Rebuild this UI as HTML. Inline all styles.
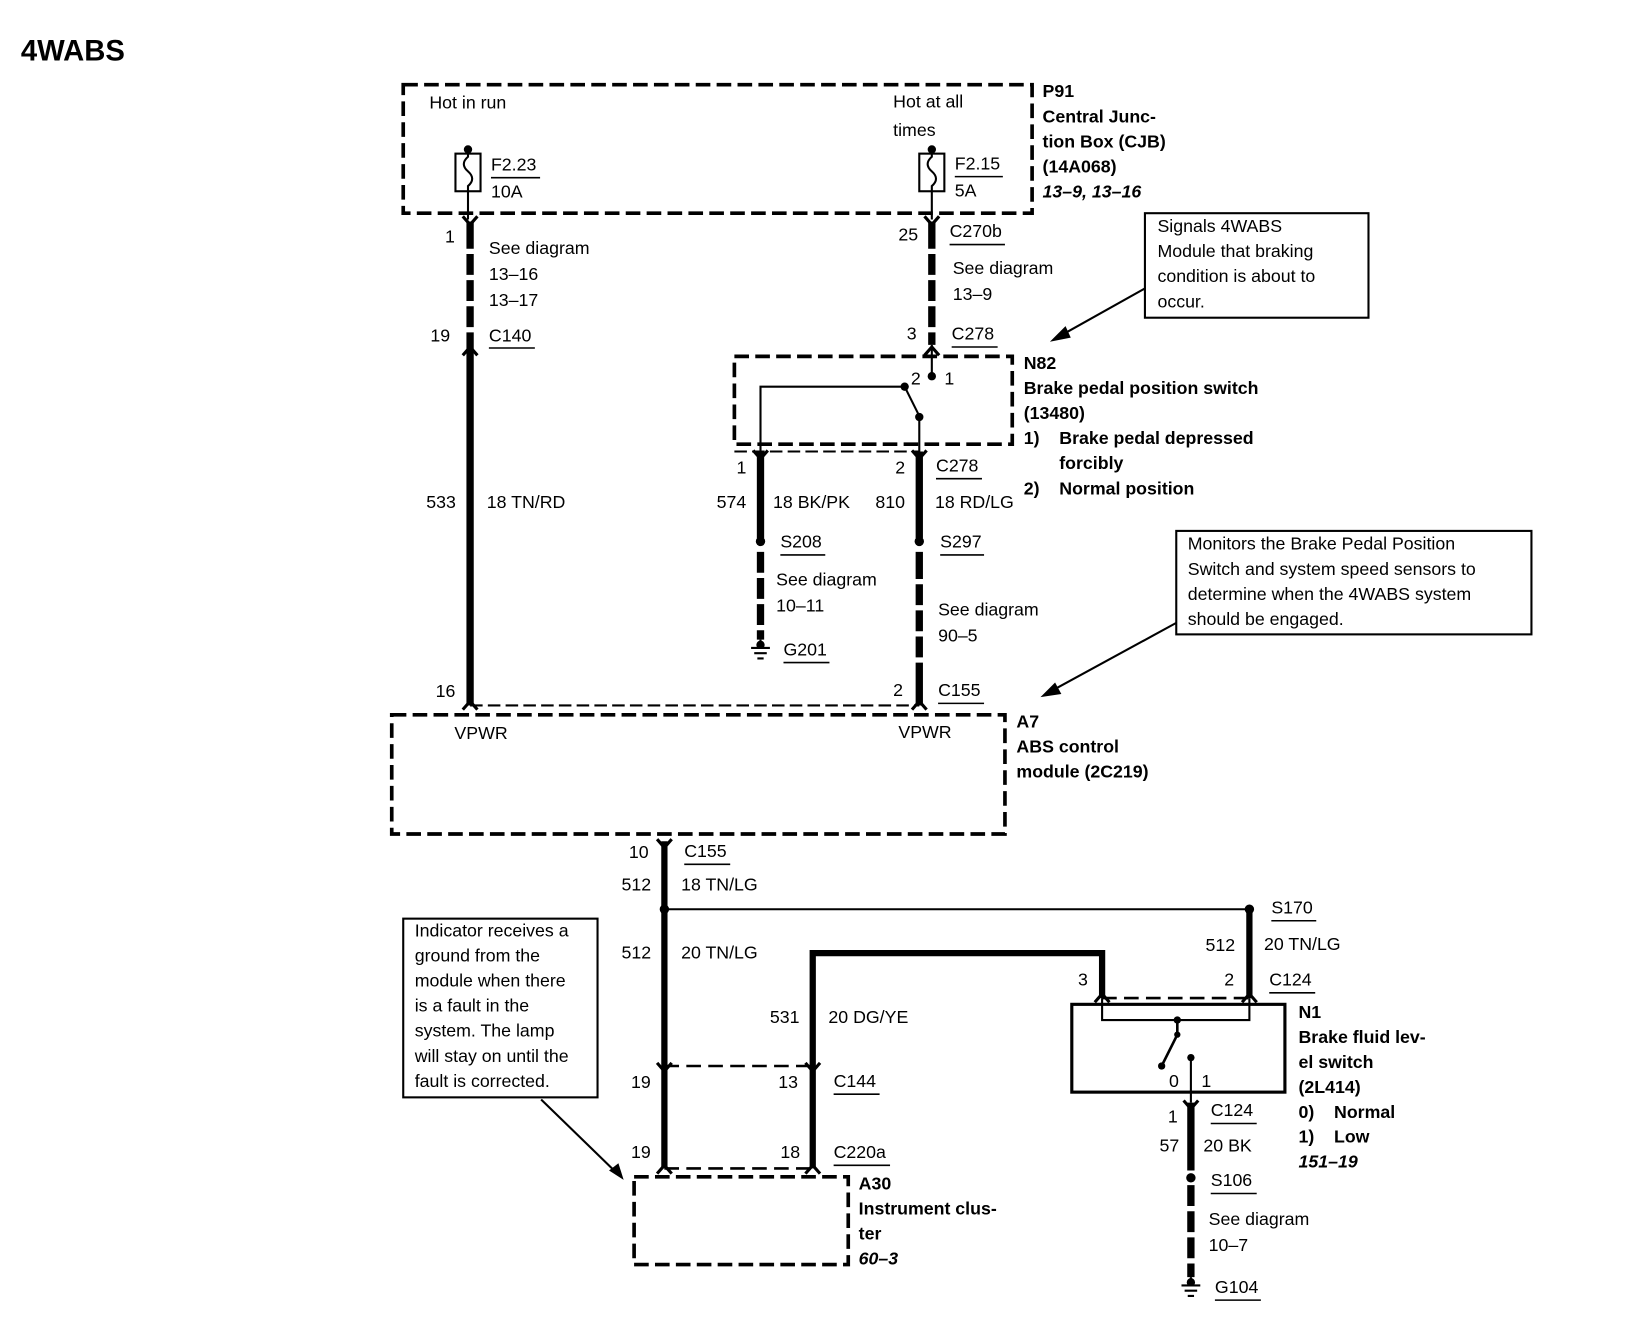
<!DOCTYPE html>
<html><head><meta charset="utf-8"><style>
html,body{margin:0;padding:0;background:#fff}
svg{display:block}
text{font-family:"Liberation Sans",sans-serif;font-size:17px;fill:#000}
.b{font-weight:bold}
.i{font-weight:bold;font-style:italic}
</style></head><body>
<svg width="1638" height="1344" viewBox="0 0 1568 1286" preserveAspectRatio="none" xmlns="http://www.w3.org/2000/svg">
<defs>
<path id="dn" d="M-7,-5 L0,3 L7,-5" fill="none" stroke="#000" stroke-width="3"/>
<path id="up" d="M-7,5 L0,-3 L7,5" fill="none" stroke="#000" stroke-width="3"/>
</defs>
<g fill="none" stroke="#000">
<rect x="386" y="81" width="602" height="123" stroke-width="3.5" stroke-dasharray="14,6"/>
<rect x="436" y="147" width="24" height="36" stroke-width="2"/>
<rect x="880" y="147" width="24" height="36" stroke-width="2"/>
<path d="M448,143 V150 q-8,7 0,14 q8,7 0,14 V210" stroke-width="2"/>
<path d="M892,143 V150 q-8,7 0,14 q8,7 0,14 V210" stroke-width="2"/>
<line x1="470" y1="170" x2="517" y2="170" stroke-width="1.5"/>
<line x1="914" y1="169" x2="960" y2="169" stroke-width="1.5"/>
<path d="M450,212 V675" stroke-width="7" stroke-dasharray="26,5,20,5,20,5,20,5,400"/>
<path d="M892,212 V330" stroke-width="7" stroke-dasharray="26,5,20,5,20,5,20,5,400"/>
<line x1="892" y1="330" x2="892" y2="358" stroke-width="2"/>
<rect x="703" y="341" width="266" height="84" stroke-width="3.5" stroke-dasharray="14,6"/>
<path d="M728,432 V370 H866 L880,398 V432" stroke-width="2"/>
<path d="M703,432 H880" stroke-width="2" stroke-dasharray="12,5"/>
<path d="M728,432 V515" stroke-width="7"/>
<path d="M880,432 V515" stroke-width="7"/>
<path d="M728,528 V612" stroke-width="7" stroke-dasharray="20,5"/>
<path d="M880,528 V675" stroke-width="7" stroke-dasharray="26,5,20,5,20,5,20,5,400"/>
<path d="M450,675 H880" stroke-width="2" stroke-dasharray="12,5"/>
<rect x="375" y="684" width="587" height="114" stroke-width="3.5" stroke-dasharray="14,6"/>
<path d="M636,805 V1118" stroke-width="6"/>
<line x1="636" y1="870" x2="1196" y2="870" stroke-width="2"/>
<path d="M1196,870 V955" stroke-width="6"/>
<path d="M778,1118 V912 H1055 V955" stroke-width="6"/>
<path d="M636,1020 H778 M636,1118 H778" stroke-width="2.5" stroke-dasharray="14,7"/>
<path d="M1055,955 H1196" stroke-width="2.5" stroke-dasharray="14,7"/>
<rect x="607" y="1126" width="205" height="84" stroke-width="3.5" stroke-dasharray="14,6"/>
<rect x="1026" y="961" width="204" height="84" stroke-width="3"/>
<path d="M1055,955 V976 H1196 V955" stroke-width="2"/>
<path d="M1127,976 V990 L1112,1020" stroke-width="2.5"/>
<path d="M1140,1012 V1055" stroke-width="2"/>
<path d="M1140,1055 V1120" stroke-width="7"/>
<path d="M1140,1134 V1222" stroke-width="7" stroke-dasharray="20,5"/>
<rect x="1096" y="204" width="214" height="100" stroke-width="2"/>
<rect x="1126" y="508" width="340" height="99" stroke-width="2"/>
<rect x="386" y="879" width="186" height="171" stroke-width="2"/>
<line x1="1096" y1="276" x2="1012" y2="323" stroke-width="2"/>
<line x1="1126" y1="596" x2="1003" y2="663" stroke-width="2"/>
<line x1="518" y1="1052" x2="590" y2="1122" stroke-width="2"/>
<g stroke-width="1.5">
<line x1="468" y1="333" x2="512" y2="333"/>
<line x1="909" y1="234" x2="962" y2="234"/>
<line x1="911" y1="332" x2="955" y2="332"/>
<line x1="896" y1="458" x2="940" y2="458"/>
<line x1="747" y1="531" x2="790" y2="531"/>
<line x1="900" y1="531" x2="942" y2="531"/>
<line x1="750" y1="634" x2="794" y2="634"/>
<line x1="898" y1="673" x2="942" y2="673"/>
<line x1="655" y1="827" x2="699" y2="827"/>
<line x1="1217" y1="881" x2="1260" y2="881"/>
<line x1="1215" y1="950" x2="1259" y2="950"/>
<line x1="798" y1="1047" x2="842" y2="1047"/>
<line x1="798" y1="1115" x2="852" y2="1115"/>
<line x1="1159" y1="1075" x2="1203" y2="1075"/>
<line x1="1159" y1="1142" x2="1203" y2="1142"/>
<line x1="1163" y1="1244" x2="1207" y2="1244"/>
</g>
<path d="M728,612 V620 M719,620 H737 M722,625 H734 M725,630 H731" stroke-width="2"/>
<path d="M1140,1222 V1230 M1131,1230 H1149 M1134,1235 H1146 M1137,1240 H1143" stroke-width="2"/>
</g>
<g fill="#000">
<polygon points="1005,327 1020,312 1025,323"/>
<polygon points="996,667 1010,653 1016,664"/>
<polygon points="597,1129 583,1120 592,1113"/>
<circle cx="448" cy="143" r="4"/><circle cx="892" cy="143" r="4"/>
<circle cx="892" cy="360" r="4"/><circle cx="866" cy="370" r="4"/><circle cx="880" cy="399" r="4"/>
<circle cx="728" cy="518" r="4.5"/><circle cx="880" cy="518" r="4.5"/>
<circle cx="636" cy="870" r="4.5"/><circle cx="1196" cy="870" r="4.5"/>
<circle cx="1127" cy="976" r="3.5"/><circle cx="1127" cy="990" r="3"/><circle cx="1112" cy="1020" r="3.5"/><circle cx="1140" cy="1012" r="3.5"/>
<circle cx="1140" cy="1127" r="4.5"/>
<circle cx="728" cy="617" r="4"/><circle cx="1140" cy="1227" r="4"/>
</g>
<use href="#dn" x="450" y="212"/><use href="#dn" x="892" y="212"/>
<use href="#up" x="450" y="335"/><use href="#up" x="892" y="335"/>
<use href="#dn" x="728" y="436"/><use href="#dn" x="880" y="436"/>
<use href="#up" x="450" y="674"/><use href="#up" x="880" y="674"/>
<use href="#dn" x="636" y="808"/>
<use href="#dn" x="636" y="1022"/><use href="#dn" x="778" y="1022"/>
<use href="#up" x="636" y="1118"/><use href="#up" x="778" y="1118"/>
<use href="#up" x="1055" y="954"/><use href="#up" x="1196" y="954"/>
<use href="#dn" x="1140" y="1058"/>
<text x="20" y="58" class="b" style="font-size:28px">4WABS</text>
<text x="411" y="104">Hot in run</text>
<text x="855" y="103">Hot at all</text><text x="855" y="130">times</text>
<text x="470" y="163">F2.23</text><text x="470" y="189">10A</text>
<text x="914" y="162">F2.15</text><text x="914" y="188">5A</text>
<text x="998" y="93" class="b">P91</text>
<text x="998" y="117" class="b">Central Junc-</text>
<text x="998" y="141" class="b">tion Box (CJB)</text>
<text x="998" y="165" class="b">(14A068)</text>
<text x="998" y="189" class="i">13–9, 13–16</text>
<text x="426" y="232">1</text>
<text x="468" y="243">See diagram</text><text x="468" y="268">13–16</text><text x="468" y="293">13–17</text>
<text x="412" y="327">19</text><text x="468" y="327">C140</text>
<text x="860" y="230">25</text><text x="909" y="227">C270b</text>
<text x="912" y="262">See diagram</text><text x="912" y="287">13–9</text>
<text x="868" y="325">3</text><text x="911" y="325">C278</text>
<text x="872" y="368">2</text><text x="904" y="368">1</text>
<text x="980" y="353" class="b">N82</text>
<text x="980" y="377" class="b">Brake pedal position switch</text>
<text x="980" y="401" class="b">(13480)</text>
<text x="980" y="425" class="b">1)</text><text x="1014" y="425" class="b">Brake pedal depressed</text>
<text x="1014" y="449" class="b">forcibly</text>
<text x="980" y="473" class="b">2)</text><text x="1014" y="473" class="b">Normal position</text>
<text x="705" y="453">1</text><text x="857" y="453">2</text><text x="896" y="451">C278</text>
<text x="408" y="486">533</text><text x="466" y="486">18 TN/RD</text>
<text x="686" y="486">574</text><text x="740" y="486">18 BK/PK</text>
<text x="838" y="486">810</text><text x="895" y="486">18 RD/LG</text>
<text x="747" y="524">S208</text><text x="900" y="524">S297</text>
<text x="743" y="560">See diagram</text><text x="743" y="585">10–11</text>
<text x="750" y="627">G201</text>
<text x="898" y="589">See diagram</text><text x="898" y="614">90–5</text>
<text x="417" y="667">16</text><text x="855" y="666">2</text><text x="898" y="666">C155</text>
<text x="435" y="707">VPWR</text><text x="860" y="706">VPWR</text>
<text x="973" y="696" class="b">A7</text>
<text x="973" y="720" class="b">ABS control</text>
<text x="973" y="744" class="b">module (2C219)</text>
<text x="602" y="821">10</text><text x="655" y="820">C155</text>
<text x="595" y="852">512</text><text x="652" y="852">18 TN/LG</text>
<text x="1217" y="874">S170</text>
<text x="595" y="917">512</text><text x="652" y="917">20 TN/LG</text>
<text x="1154" y="910">512</text><text x="1210" y="909">20 TN/LG</text>
<text x="1032" y="943">3</text><text x="1172" y="943">2</text><text x="1215" y="943">C124</text>
<text x="737" y="979">531</text><text x="793" y="979">20 DG/YE</text>
<text x="1243" y="974" class="b">N1</text>
<text x="1243" y="998" class="b">Brake fluid lev-</text>
<text x="1243" y="1022" class="b">el switch</text>
<text x="1243" y="1046" class="b">(2L414)</text>
<text x="1243" y="1070" class="b">0)</text><text x="1277" y="1070" class="b">Normal</text>
<text x="1243" y="1093" class="b">1)</text><text x="1277" y="1093" class="b">Low</text>
<text x="1243" y="1117" class="i">151–19</text>
<text x="1119" y="1040">0</text><text x="1150" y="1040">1</text>
<text x="1118" y="1074">1</text><text x="1159" y="1068">C124</text>
<text x="1110" y="1102">57</text><text x="1152" y="1102">20 BK</text>
<text x="1159" y="1135">S106</text>
<text x="1157" y="1172">See diagram</text><text x="1157" y="1197">10–7</text>
<text x="1163" y="1237">G104</text>
<text x="604" y="1041">19</text><text x="745" y="1041">13</text><text x="798" y="1040">C144</text>
<text x="604" y="1108">19</text><text x="747" y="1108">18</text><text x="798" y="1108">C220a</text>
<text x="822" y="1138" class="b">A30</text>
<text x="822" y="1162" class="b">Instrument clus-</text>
<text x="822" y="1186" class="b">ter</text>
<text x="822" y="1210" class="i">60–3</text>
<text x="1108" y="222">Signals 4WABS</text>
<text x="1108" y="246">Module that braking</text>
<text x="1108" y="270">condition is about to</text>
<text x="1108" y="294">occur.</text>
<text x="1137" y="526">Monitors the Brake Pedal Position</text>
<text x="1137" y="550">Switch and system speed sensors to</text>
<text x="1137" y="574">determine when the 4WABS system</text>
<text x="1137" y="598">should be engaged.</text>
<text x="397" y="896">Indicator receives a</text>
<text x="397" y="920">ground from the</text>
<text x="397" y="944">module when there</text>
<text x="397" y="968">is a fault in the</text>
<text x="397" y="992">system.  The lamp</text>
<text x="397" y="1016">will stay on until the</text>
<text x="397" y="1040">fault is corrected.</text>
</svg>
</body></html>
